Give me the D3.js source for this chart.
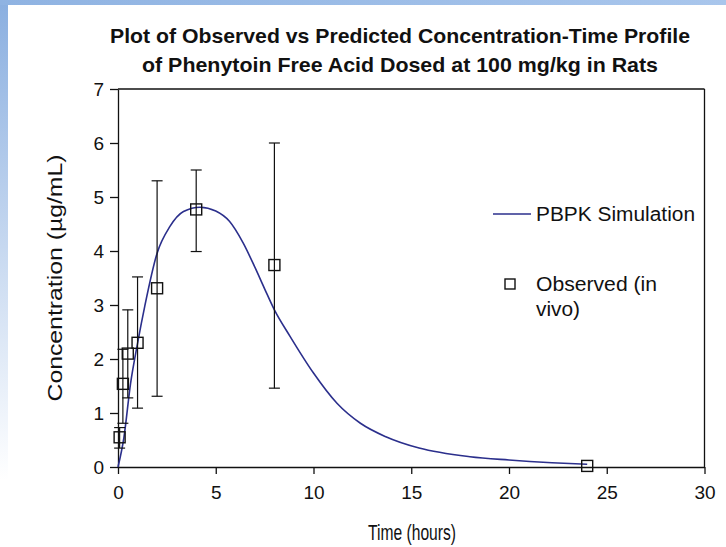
<!DOCTYPE html>
<html>
<head>
<meta charset="utf-8">
<script src="https://cdn.jsdelivr.net/npm/d3@7"></script>
<style>
  body { margin: 0; background: #fff; }
  svg { display: block; font-family: "Liberation Sans", Arial, sans-serif; }
</style>
</head>
<body>
<script>
"use strict";
/* observed rat data (mean, low/high of error bar) */
var obsTime = [0.083, 0.25, 0.5, 1, 2, 4, 8, 24];
var obsConc = [0.55, 1.54, 2.1, 2.3, 3.31, 4.77, 3.74, 0.02];
var obsLow  = [0.35, 0.81, 1.28, 1.09, 1.31, 3.99, 1.46, null];
var obsHigh = [0.73, 2.18, 2.91, 3.52, 5.30, 5.50, 6.00, null];

/* PBPK simulation curve */
var simTime = [0, 0.3, 0.64, 1.0, 1.37, 2.0, 2.65, 3.35, 4.2, 5.0, 5.7, 6.4, 7.0, 7.5, 8.0, 8.8, 10, 11.2, 12.4, 13.7, 15.4, 18, 20, 22.2, 24];
var simConc = [0, 0.54, 1.54, 2.29, 2.98, 3.96, 4.45, 4.73, 4.81, 4.74, 4.55, 4.15, 3.7, 3.3, 2.91, 2.42, 1.74, 1.18, 0.81, 0.56, 0.35, 0.19, 0.13, 0.08, 0.05];

var xTicks = [0, 5, 10, 15, 20, 25, 30];
var yTicks = [0, 1, 2, 3, 4, 5, 6, 7];

var width = 726, height = 547;
var ink = "#111";
var curveColor = "#2b2f8c";

var svg = d3.select("body").append("svg")
    .attr("width", width).attr("height", height);

/* slide decoration: blue strips on top and left */
var defs = svg.append("defs");
var gl = defs.append("linearGradient").attr("id", "leftfade")
    .attr("x1", 0).attr("y1", 0).attr("x2", 0).attr("y2", 1);
gl.append("stop").attr("offset", "0%").attr("stop-color", "#8aafe0");
gl.append("stop").attr("offset", "100%").attr("stop-color", "#ffffff");
var gt = defs.append("linearGradient").attr("id", "topfade")
    .attr("x1", 0).attr("y1", 0).attr("x2", 1).attr("y2", 0);
gt.append("stop").attr("offset", "0%").attr("stop-color", "#8fb3e2");
gt.append("stop").attr("offset", "100%").attr("stop-color", "#a9c6ec");
svg.append("rect").attr("x", 0).attr("y", 0).attr("width", 8).attr("height", 480)
    .attr("fill", "url(#leftfade)");
svg.append("rect").attr("x", 0).attr("y", 0).attr("width", width).attr("height", 5)
    .attr("fill", "url(#topfade)");

var x = d3.scaleLinear().domain([0, 30]).range([118, 704.5]);
var y = d3.scaleLinear().domain([0, 7]).range([467, 89]);

/* title */
svg.append("text").attr("x", 400).attr("y", 43)
    .attr("text-anchor", "middle").attr("font-weight", "bold").attr("font-size", 21)
    .attr("fill", ink).attr("textLength", 580).attr("lengthAdjust", "spacingAndGlyphs")
    .text("Plot of Observed vs Predicted Concentration-Time Profile");
svg.append("text").attr("x", 400).attr("y", 72)
    .attr("text-anchor", "middle").attr("font-weight", "bold").attr("font-size", 21)
    .attr("fill", ink).attr("textLength", 516).attr("lengthAdjust", "spacingAndGlyphs")
    .text("of Phenytoin Free Acid Dosed at 100 mg/kg in Rats");

/* axes */
var xAxis = svg.append("g").attr("transform", "translate(0," + y(0) + ")")
    .call(d3.axisBottom(x).tickValues(xTicks).tickSize(7).tickSizeOuter(0).tickPadding(12));
var yAxis = svg.append("g").attr("transform", "translate(" + x(0) + ",0)")
    .call(d3.axisLeft(y).tickValues(yTicks).tickFormat(d3.format("d"))
        .tickSize(8).tickSizeOuter(0).tickPadding(6));
[xAxis, yAxis].forEach(function(g) {
    g.selectAll("path, line").attr("stroke", ink).attr("stroke-width", 1.3);
    g.selectAll("text").attr("font-size", 19).attr("fill", ink)
        .attr("font-family", "Liberation Sans, Arial, sans-serif");
});

/* frame top and right */
svg.append("line").attr("x1", x(0)).attr("x2", x(30)).attr("y1", y(7)).attr("y2", y(7))
    .attr("stroke", ink).attr("stroke-width", 1.3);
svg.append("line").attr("x1", x(30)).attr("x2", x(30)).attr("y1", y(7)).attr("y2", y(0))
    .attr("stroke", ink).attr("stroke-width", 1.3);

/* axis titles */
svg.append("text").attr("x", 412).attr("y", 540).attr("text-anchor", "middle")
    .attr("font-size", 22).attr("fill", ink)
    .attr("textLength", 88).attr("lengthAdjust", "spacingAndGlyphs")
    .text("Time (hours)");
svg.append("text").attr("transform", "translate(62,278) rotate(-90)")
    .attr("text-anchor", "middle").attr("font-size", 20).attr("fill", ink)
    .attr("textLength", 247).attr("lengthAdjust", "spacingAndGlyphs")
    .text("Concentration (\u00b5g/mL)");

/* simulation curve */
var sim = simTime.map(function(t, i) { return [t, simConc[i]]; });
svg.append("path").datum(sim)
    .attr("fill", "none").attr("stroke", curveColor).attr("stroke-width", 1.6)
    .attr("d", d3.line().x(function(d) { return x(d[0]); })
        .y(function(d) { return y(d[1]); }).curve(d3.curveMonotoneX));

/* observed points with error bars */
var obs = obsTime.map(function(t, i) {
    return { t: t, c: obsConc[i], lo: obsLow[i], hi: obsHigh[i] };
});
var bars = svg.append("g").selectAll("g").data(obs.filter(function(d) { return d.lo !== null; }))
    .enter().append("g").attr("stroke", ink).attr("stroke-width", 1.2);
bars.append("line").attr("x1", function(d) { return x(d.t); }).attr("x2", function(d) { return x(d.t); })
    .attr("y1", function(d) { return y(d.lo); }).attr("y2", function(d) { return y(d.hi); });
bars.append("line").attr("x1", function(d) { return x(d.t) - 5.5; }).attr("x2", function(d) { return x(d.t) + 5.5; })
    .attr("y1", function(d) { return y(d.hi); }).attr("y2", function(d) { return y(d.hi); });
bars.append("line").attr("x1", function(d) { return x(d.t) - 5.5; }).attr("x2", function(d) { return x(d.t) + 5.5; })
    .attr("y1", function(d) { return y(d.lo); }).attr("y2", function(d) { return y(d.lo); });

svg.append("g").selectAll("rect").data(obs).enter().append("rect")
    .attr("x", function(d) { return x(d.t) - 5.5; })
    .attr("y", function(d) { return y(d.c) - 5.5; })
    .attr("width", 11).attr("height", 11)
    .attr("fill", "none").attr("stroke", ink).attr("stroke-width", 1.4);

/* legend */
svg.append("line").attr("x1", 493).attr("x2", 531).attr("y1", 214).attr("y2", 214)
    .attr("stroke", curveColor).attr("stroke-width", 1.6);
svg.append("text").attr("x", 536).attr("y", 221).attr("font-size", 20).attr("fill", ink)
    .attr("textLength", 159).attr("lengthAdjust", "spacingAndGlyphs")
    .text("PBPK Simulation");
svg.append("rect").attr("x", 505).attr("y", 279).attr("width", 10).attr("height", 10)
    .attr("fill", "none").attr("stroke", ink).attr("stroke-width", 1.4);
svg.append("text").attr("x", 536).attr("y", 291).attr("font-size", 20).attr("fill", ink)
    .attr("textLength", 121).attr("lengthAdjust", "spacingAndGlyphs")
    .text("Observed (in");
svg.append("text").attr("x", 536).attr("y", 316).attr("font-size", 20).attr("fill", ink)
    .attr("textLength", 44).attr("lengthAdjust", "spacingAndGlyphs")
    .text("vivo)");
</script>
</body>
</html>
